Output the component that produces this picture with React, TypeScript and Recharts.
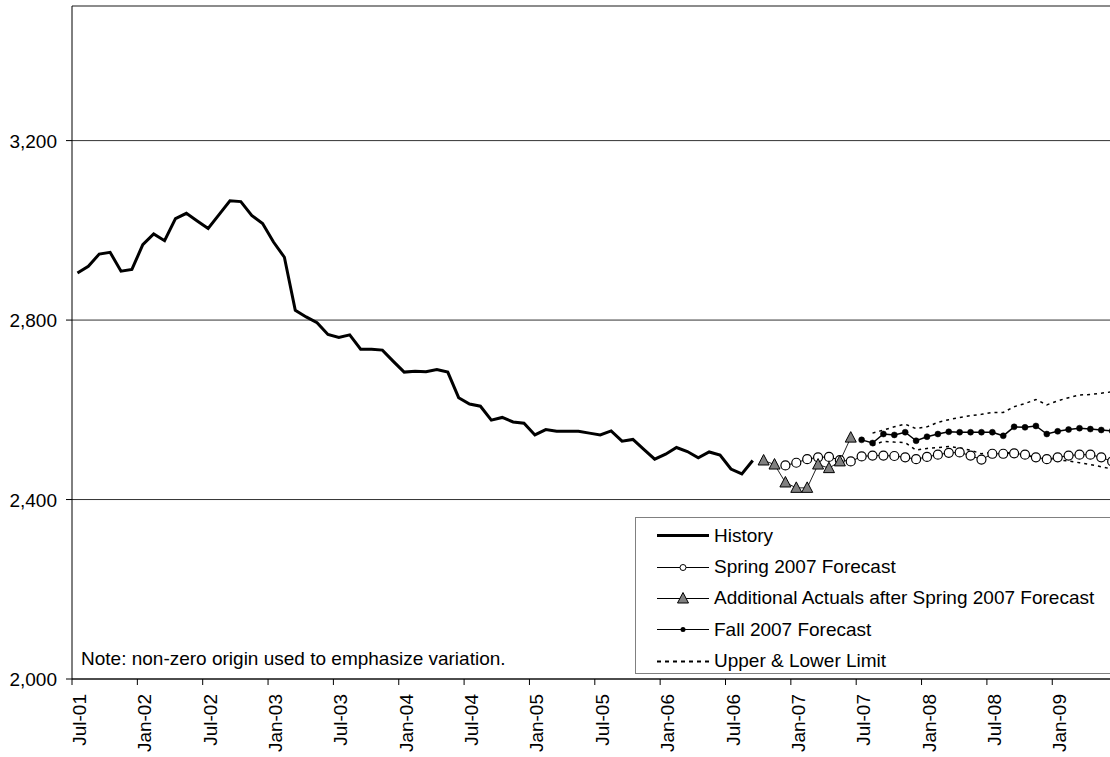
import React from 'react';
import {
  LineChart,
  Line,
  XAxis,
  YAxis,
  CartesianGrid,
  ReferenceLine,
  Legend,
} from 'recharts';

const FONT = '"Liberation Sans", Arial, sans-serif';

// month index 0 = Jul-01; ticks every 6 months
const tickLabels = [
  'Jul-01', 'Jan-02', 'Jul-02', 'Jan-03', 'Jul-03', 'Jan-04', 'Jul-04', 'Jan-05',
  'Jul-05', 'Jan-06', 'Jul-06', 'Jan-07', 'Jul-07', 'Jan-08', 'Jul-08', 'Jan-09',
];
const yTicks = [2000, 2400, 2800, 3200];

// Jul-01 .. Sep-06
const history = [
  2905, 2920, 2947, 2951, 2909, 2913, 2968, 2992, 2977, 3026,
  3038, 3021, 3004, 3035, 3066, 3064, 3033, 3015, 2974, 2940,
  2822, 2807, 2794, 2768, 2761, 2767, 2735, 2735, 2733, 2708,
  2684, 2686, 2685, 2690, 2684, 2627, 2613, 2608, 2577, 2583,
  2573, 2570, 2544, 2556, 2552, 2552, 2552, 2548, 2544, 2553,
  2530, 2534, 2512, 2490, 2501, 2516, 2507, 2493, 2506, 2499,
  2468, 2457, 2487,
];

// Oct-06 .. Jun-07
const additionalStart = 63;
const additional = [2487, 2478, 2438, 2426, 2426, 2478, 2470, 2485, 2538];

// Dec-06 .. Jun-09
const springStart = 65;
const spring = [
  2476, 2482, 2490, 2494, 2495, 2488, 2485, 2496, 2498, 2498,
  2497, 2494, 2490, 2495, 2500, 2504, 2505, 2498, 2489, 2502,
  2502, 2503, 2500, 2494, 2490, 2494, 2498, 2500, 2500, 2494,
  2485,
];

// Jul-07 .. Jun-09
const fallStart = 72;
const fall = [
  2533, 2526, 2546, 2544, 2550, 2531, 2540, 2546, 2551, 2550,
  2550, 2550, 2550, 2542, 2562, 2561, 2564, 2546, 2552, 2556,
  2559, 2557, 2555, 2553,
];

// Aug-07 .. Jun-09
const limitStart = 73;
const upper = [
  2548, 2555, 2562, 2568, 2558, 2562, 2572, 2578, 2583, 2587,
  2590, 2594, 2594, 2607, 2614, 2623, 2611, 2620, 2627, 2633,
  2634, 2637, 2640,
];
const lower = [
  2520, 2530, 2528, 2527, 2510, 2514, 2516, 2518, 2515, 2510,
  2502, 2505, 2505, 2503, 2498, 2495, 2492, 2488, 2486, 2482,
  2478, 2473, 2468,
];

const pick = (arr: number[], start: number, i: number) =>
  i >= start && i < start + arr.length ? arr[i - start] : null;

const data = Array.from({ length: 96 }, (_, i) => ({
  x: i + 0.5,
  history: pick(history, 0, i),
  additional: pick(additional, additionalStart, i),
  spring: pick(spring, springStart, i),
  fall: pick(fall, fallStart, i),
  upper: pick(upper, limitStart, i),
  lower: pick(lower, limitStart, i),
}));

const XTick = (props: any) => {
  const { x, y, payload } = props;
  const label = tickLabels[Math.round(payload.value / 6)] ?? '';
  const ax = x + 14;
  const ay = y + 9;
  return (
    <text
      x={ax}
      y={ay}
      transform={`rotate(-90, ${ax}, ${ay})`}
      textAnchor="end"
      fontSize={19}
      fontFamily={FONT}
      fill="#000"
    >
      {label}
    </text>
  );
};

const YTick = (props: any) => {
  const { y, payload } = props;
  return (
    <text x={57} y={y + 7} textAnchor="end" fontSize={19} fontFamily={FONT} fill="#000">
      {payload.value.toLocaleString('en-US')}
    </text>
  );
};

const TriangleDot = (props: any) => {
  const { cx, cy } = props;
  if (cx == null || cy == null) return null;
  return (
    <polygon
      points={`${cx},${cy - 6} ${cx - 5.5},${cy + 4.5} ${cx + 5.5},${cy + 4.5}`}
      fill="#808080"
      stroke="#000"
      strokeWidth={1}
    />
  );
};

const legendRows = [
  { key: 'history', label: 'History' },
  { key: 'spring', label: 'Spring 2007 Forecast' },
  { key: 'additional', label: 'Additional Actuals after Spring 2007 Forecast' },
  { key: 'fall', label: 'Fall 2007 Forecast' },
  { key: 'limit', label: 'Upper & Lower Limit' },
];

const LegendSymbol = ({ kind }: { kind: string }) => (
  <svg width={52} height={15} style={{ display: 'block' }}>
    {kind === 'history' && <line x1={0} y1={7.5} x2={52} y2={7.5} stroke="#000" strokeWidth={3} />}
    {kind === 'spring' && (
      <>
        <line x1={0} y1={7.5} x2={52} y2={7.5} stroke="#000" strokeWidth={1} />
        <circle cx={26} cy={7.5} r={3} fill="#fff" stroke="#000" strokeWidth={1} />
      </>
    )}
    {kind === 'additional' && (
      <>
        <line x1={0} y1={7.5} x2={52} y2={7.5} stroke="#000" strokeWidth={1} />
        <polygon points="26,1.5 20.5,12 31.5,12" fill="#808080" stroke="#000" strokeWidth={1} />
      </>
    )}
    {kind === 'fall' && (
      <>
        <line x1={0} y1={7.5} x2={52} y2={7.5} stroke="#000" strokeWidth={1} />
        <circle cx={26} cy={7.5} r={2.5} fill="#000" />
      </>
    )}
    {kind === 'limit' && (
      <line x1={0} y1={7.5} x2={52} y2={7.5} stroke="#000" strokeWidth={2} strokeDasharray="4 4" />
    )}
  </svg>
);

const renderLegend = () => (
  <div
    style={{
      width: 480,
      height: 157,
      boxSizing: 'border-box',
      border: '1px solid #808080',
      background: '#fff',
      paddingTop: 2,
      fontFamily: FONT,
      fontSize: 19,
      color: '#000',
    }}
  >
    {legendRows.map((r) => (
      <div key={r.key} style={{ height: 31.4, display: 'flex', alignItems: 'center' }}>
        <div style={{ marginLeft: 21, width: 57 }}>
          <LegendSymbol kind={r.key} />
        </div>
        <span style={{ whiteSpace: 'nowrap' }}>{r.label}</span>
      </div>
    ))}
  </div>
);

export default function App() {
  return (
    <div
      style={{
        position: 'absolute',
        left: 0,
        top: 0,
        width: 1110,
        height: 757,
        overflow: 'hidden',
        background: '#fff',
      }}
    >
      <LineChart
        width={1130}
        height={757}
        data={data}
        margin={{ top: 6, right: 12.4, bottom: 0, left: 0 }}
      >
        <CartesianGrid vertical={false} stroke="#333" strokeWidth={1} />
        <XAxis
          type="number"
          dataKey="x"
          domain={[0, 96]}
          ticks={tickLabels.map((_, i) => i * 6)}
          tick={<XTick />}
          tickSize={6}
          tickMargin={0}
          height={78}
          stroke="#000"
          interval={0}
          allowDataOverflow
        />
        <YAxis
          type="number"
          domain={[2000, 3500]}
          ticks={yTicks}
          tick={<YTick />}
          tickSize={6}
          width={72}
          stroke="#000"
          interval={0}
          allowDataOverflow
        />
        <ReferenceLine y={3500} stroke="#888" strokeWidth={1.5} />
        <Line
          dataKey="history"
          stroke="#000"
          strokeWidth={3}
          dot={false}
          isAnimationActive={false}
        />
        <Line
          dataKey="upper"
          stroke="#000"
          strokeWidth={1.5}
          strokeDasharray="3 4"
          dot={false}
          isAnimationActive={false}
        />
        <Line
          dataKey="lower"
          stroke="#000"
          strokeWidth={1.5}
          strokeDasharray="3 4"
          dot={false}
          isAnimationActive={false}
        />
        <Line
          dataKey="spring"
          stroke="#000"
          strokeWidth={1}
          dot={{ r: 4.5, fill: '#fff', stroke: '#000', strokeWidth: 1.2 }}
          isAnimationActive={false}
        />
        <Line
          dataKey="fall"
          stroke="#000"
          strokeWidth={1.5}
          dot={{ r: 3, fill: '#000', stroke: '#000', strokeWidth: 0.5 }}
          isAnimationActive={false}
        />
        <Line
          dataKey="additional"
          stroke="#222"
          strokeWidth={1}
          dot={<TriangleDot />}
          isAnimationActive={false}
        />
        <Legend
          layout="vertical"
          align="center"
          verticalAlign="middle"
          content={renderLegend}
          wrapperStyle={{ position: 'absolute', left: 635, top: 517, width: 480, height: 157 }}
        />
      </LineChart>
      <div
        style={{
          position: 'absolute',
          left: 81,
          top: 648,
          fontFamily: FONT,
          fontSize: 19,
          lineHeight: '22px',
          color: '#000',
          whiteSpace: 'nowrap',
        }}
      >
        Note: non-zero origin used to emphasize variation.
      </div>
    </div>
  );
}
